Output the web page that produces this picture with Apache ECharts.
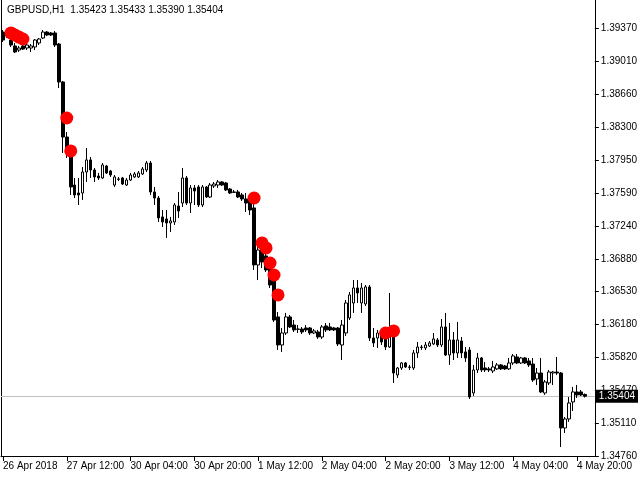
<!DOCTYPE html>
<html><head><meta charset="utf-8">
<script src="https://cdn.jsdelivr.net/npm/echarts@6/dist/echarts.min.js"></script>
<style>html,body{margin:0;padding:0;background:#fff;}#c{width:640px;height:480px;}</style>
</head><body><div id="c"></div>
<script>
const symbolName = 'GBPUSD,H1';
const openP = [1.39327,1.39317,1.39241,1.39177,1.39133,1.39177,1.39155,1.39155,1.39166,1.39209,1.39263,1.39327,1.39317,1.39317,1.39198,1.38789,1.38196,1.38035,1.37679,1.37593,
1.37593,1.37819,1.37949,1.37841,1.37776,1.37755,1.37884,1.37830,1.37679,1.37744,1.37755,1.37679,1.37733,1.37766,1.37766,1.37798,1.37841,1.37916,1.37604,1.37539,
1.37335,1.37313,1.37270,1.37281,1.37453,1.37485,1.37755,1.37485,1.37647,1.37658,1.37464,1.37658,1.37550,1.37669,1.37679,1.37712,1.37701,1.37636,1.37604,1.37604,
1.37572,1.37529,1.37518,1.37432,1.36818,1.36979,1.36915,1.36785,1.36656,1.36258,1.35956,1.36085,1.36258,1.36171,1.36128,1.36128,1.36139,1.36139,1.36085,1.36096,
1.36042,1.36161,1.36150,1.36139,1.36139,1.35956,1.36085,1.36247,1.36408,1.36570,1.36408,1.36398,1.36581,1.36031,1.36031,1.36064,1.36031,1.35934,1.36064,1.35633,
1.35708,1.35762,1.35719,1.35708,1.35870,1.35934,1.35924,1.35945,1.35967,1.36010,1.35956,1.36150,1.35848,1.36010,1.35870,1.35999,1.35881,1.35902,1.35439,1.35687,
1.35816,1.35708,1.35698,1.35676,1.35698,1.35741,1.35730,1.35698,1.35762,1.35827,1.35762,1.35816,1.35784,1.35751,1.35590,1.35654,1.35439,1.35547,1.35654,1.35665,
1.35654,1.35062,1.35159,1.35342,1.35450,1.35450,1.35423];
const closeP = [1.39241,1.39284,1.39187,1.39112,1.39155,1.39144,1.39187,1.39177,1.39241,1.39252,1.39327,1.39295,1.39295,1.39187,1.38789,1.38196,1.38056,1.37658,1.37572,1.37572,
1.37819,1.37949,1.37841,1.37766,1.37755,1.37895,1.37809,1.37787,1.37766,1.37740,1.37690,1.37733,1.37787,1.37798,1.37809,1.37852,1.37916,1.37604,1.37539,1.37324,
1.37281,1.37270,1.37292,1.37464,1.37399,1.37755,1.37485,1.37647,1.37615,1.37464,1.37658,1.37550,1.37679,1.37690,1.37712,1.37679,1.37626,1.37593,1.37600,1.37550,
1.37529,1.37485,1.37410,1.36818,1.36979,1.36850,1.36764,1.36602,1.36225,1.35956,1.36085,1.36258,1.36150,1.36118,1.36125,1.36096,1.36118,1.36085,1.36107,1.36042,
1.36150,1.36118,1.36118,1.36118,1.35967,1.36171,1.36408,1.36495,1.36570,1.36516,1.36570,1.36581,1.36031,1.35978,1.36085,1.35988,1.35934,1.36085,1.35654,1.35708,
1.35762,1.35719,1.35715,1.35870,1.35934,1.35930,1.35956,1.35978,1.36021,1.35956,1.36150,1.35848,1.36010,1.35870,1.36010,1.35870,1.35816,1.35396,1.35687,1.35816,
1.35687,1.35687,1.35687,1.35719,1.35741,1.35698,1.35698,1.35762,1.35838,1.35762,1.35816,1.35762,1.35741,1.35579,1.35654,1.35450,1.35558,1.35665,1.35665,1.35654,
1.35062,1.35159,1.35331,1.35450,1.35418,1.35418,1.35404];
const lowP = [1.39220,1.39263,1.39166,1.39101,1.39112,1.39133,1.39133,1.39112,1.39133,1.39187,1.39252,1.39284,1.39284,1.39166,1.38724,1.38024,1.37970,1.37572,1.37539,1.37464,
1.37518,1.37712,1.37755,1.37712,1.37733,1.37744,1.37798,1.37766,1.37658,1.37722,1.37679,1.37669,1.37722,1.37755,1.37755,1.37787,1.37819,1.37572,1.37464,1.37281,
1.37227,1.37109,1.37173,1.37249,1.37324,1.37442,1.37464,1.37378,1.37464,1.37442,1.37442,1.37539,1.37539,1.37647,1.37647,1.37669,1.37615,1.37582,1.37593,1.37539,
1.37507,1.37389,1.37356,1.36764,1.36656,1.36785,1.36742,1.36570,1.36204,1.35902,1.35881,1.36064,1.36139,1.36096,1.36085,1.36074,1.36096,1.36064,1.36074,1.36021,
1.36021,1.36096,1.36107,1.36107,1.35945,1.35794,1.36053,1.36225,1.36301,1.36408,1.36301,1.36376,1.35999,1.35934,1.35924,1.35956,1.35902,1.35924,1.35547,1.35601,
1.35687,1.35708,1.35687,1.35687,1.35816,1.35902,1.35902,1.35934,1.35956,1.35934,1.35934,1.35838,1.35741,1.35794,1.35816,1.35816,1.35773,1.35374,1.35407,1.35654,
1.35665,1.35665,1.35665,1.35654,1.35687,1.35687,1.35687,1.35687,1.35741,1.35751,1.35751,1.35751,1.35719,1.35558,1.35525,1.35439,1.35418,1.35525,1.35525,1.35633,
1.34857,1.35008,1.35127,1.35245,1.35385,1.35407,1.35390];
const highP = [1.39349,1.39349,1.39273,1.39209,1.39177,1.39187,1.39209,1.39198,1.39252,1.39263,1.39349,1.39338,1.39327,1.39338,1.39209,1.38800,1.38250,1.38078,1.37755,1.37755,
1.37873,1.38078,1.37981,1.37862,1.37809,1.37916,1.37895,1.37841,1.37787,1.37766,1.37766,1.37755,1.37809,1.37819,1.37830,1.37873,1.37938,1.37938,1.37658,1.37561,
1.37410,1.37410,1.37335,1.37485,1.37604,1.37862,1.37776,1.37679,1.37679,1.37679,1.37679,1.37669,1.37701,1.37712,1.37733,1.37722,1.37712,1.37647,1.37626,1.37626,
1.37593,1.37593,1.37529,1.37485,1.37012,1.37087,1.36979,1.36850,1.36710,1.36311,1.36139,1.36301,1.36279,1.36225,1.36171,1.36150,1.36171,1.36150,1.36128,1.36118,
1.36171,1.36193,1.36193,1.36150,1.36150,1.36225,1.36441,1.36527,1.36656,1.36656,1.36624,1.36602,1.36602,1.36139,1.36118,1.36096,1.36064,1.36516,1.36118,1.35719,
1.35773,1.35773,1.35741,1.35902,1.35988,1.35956,1.35988,1.35999,1.36085,1.36031,1.36236,1.36301,1.36193,1.36096,1.36204,1.36042,1.35934,1.35934,1.35741,1.35870,
1.35827,1.35773,1.35719,1.35784,1.35762,1.35751,1.35741,1.35816,1.35859,1.35859,1.35827,1.35827,1.35816,1.35816,1.35708,1.35816,1.35579,1.35687,1.35676,1.35827,
1.35665,1.35180,1.35396,1.35504,1.35525,1.35471,1.35433];
const signalIdx = [2,3,4,5,16,17,63,65,66,67,68,69,96,98];
const signalPrice = [1.39317,1.39295,1.39273,1.39252,1.38401,1.38046,1.37539,1.37055,1.37001,1.36839,1.36710,1.36495,1.36085,1.36107];
const yTicks = [1.3476,1.3511,1.3547,1.3582,1.3618,1.3653,1.3688,1.3724,1.3759,1.3795,1.3830,1.3866,1.3901,1.3937];
const xTickLabels = ['26 Apr 2018','27 Apr 12:00','30 Apr 04:00','30 Apr 20:00','1 May 12:00','2 May 04:00','2 May 20:00','3 May 12:00','4 May 04:00','4 May 20:00'];

const FONT = '"Liberation Sans", Arial, sans-serif';
const MON = ['Jan','Feb','Mar','Apr','May','Jun','Jul','Aug','Sep','Oct','Nov','Dec'];
const cats = [];
let t = Date.UTC(2018, 3, 26, 20);
while (cats.length < openP.length) {
  const d = new Date(t);
  const wd = d.getUTCDay();
  if (wd !== 0 && wd !== 6) {
    cats.push(d.getUTCDate() + ' ' + MON[d.getUTCMonth()] + ' ' + String(d.getUTCHours()).padStart(2, '0') + ':00');
  }
  t += 3600000;
}
cats.push('', '');
const ohlc = openP.map((o, i) => [o, closeP[i], lowP[i], highP[i]]);
const dots = signalIdx.map((k, i) => [k, signalPrice[i]]);
const n = openP.length - 1;
const lastClose = closeP[n];
const header = symbolName + '  ' + [openP[n], highP[n], lowP[n], closeP[n]].map(v => v.toFixed(5)).join(' ');
const Y_MIN = 1.34760, Y_MAX = 1.39672;

const chart = echarts.init(document.getElementById('c'), null, {renderer: 'canvas'});
chart.setOption({
  animation: false,
  backgroundColor: '#ffffff',
  title: {text: header, left: 7, top: 5, padding: 0,
    textStyle: {fontSize: 10, fontWeight: 'normal', color: '#000', fontFamily: FONT}},
  grid: {left: 1, top: 0, width: 595, height: 456, containLabel: false},
  xAxis: {
    type: 'category', data: cats, boundaryGap: true,
    axisLine: {show: true, lineStyle: {color: '#000', width: 1}},
    axisTick: {show: true, interval: 15, alignWithLabel: true, length: 5, lineStyle: {color: '#000'}},
    axisLabel: {interval: 15, align: 'left', margin: 5, color: '#000', fontSize: 10, fontFamily: FONT,
      formatter: (v, i) => (i % 16 === 0 && xTickLabels[i / 16]) ? xTickLabels[i / 16] : ''},
    splitLine: {show: false}
  },
  yAxis: [{
    type: 'value', position: 'right', min: Y_MIN, max: Y_MAX,
    axisLine: {show: true, onZero: false, lineStyle: {color: '#000', width: 1}},
    axisTick: {show: true, length: 4, customValues: yTicks, lineStyle: {color: '#000'}},
    axisLabel: {customValues: yTicks, margin: 6, color: '#000', fontSize: 10, fontFamily: FONT,
      formatter: v => v.toFixed(5)},
    splitLine: {show: false}
  }, {
    type: 'value', position: 'left', min: Y_MIN, max: Y_MAX,
    axisLine: {show: true, onZero: false, lineStyle: {color: '#000', width: 1}},
    axisTick: {show: false}, axisLabel: {show: false}, splitLine: {show: false}
  }],
  series: [{
    type: 'candlestick', data: ohlc, barWidth: 3, z: 3, yAxisIndex: 0,
    itemStyle: {color: '#ffffff', color0: '#000000', borderColor: '#000000', borderColor0: '#000000',
      borderColorDoji: '#000000', borderWidth: 1},
    markLine: {
      silent: true, z: 1, symbol: ['none', 'none'], precision: 5,
      lineStyle: {color: '#c0c0c0', width: 1, type: 'solid'},
      label: {show: true, position: 'end', distance: 1, formatter: lastClose.toFixed(5),
        color: '#fff', backgroundColor: '#000', padding: [2, 3, 1, 3], fontSize: 10, fontFamily: FONT},
      data: [{yAxis: lastClose}]
    }
  }, {
    type: 'scatter', data: dots, symbol: 'circle', symbolSize: 13, z: 4,
    itemStyle: {color: '#ff0000', opacity: 1}
  }]
});
</script></body></html>
